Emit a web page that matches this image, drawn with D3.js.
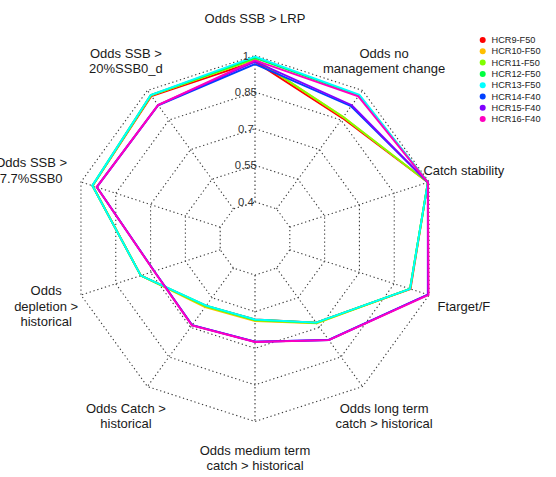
<!DOCTYPE html>
<html>
<head>
<meta charset="utf-8">
<script src="https://cdn.jsdelivr.net/npm/d3@7"></script>
<style>
  html, body { margin: 0; padding: 0; background: #fff; }
  svg { display: block; font-family: "Liberation Sans", Arial, sans-serif; }
</style>
</head>
<body>
<svg id="chart" width="556" height="477"></svg>
<script>
// Axes, clockwise from the top
const axes = [
  "Odds SSB > LRP",
  "Odds no\nmanagement change",
  "Catch stability",
  "Ftarget/F",
  "Odds long term\ncatch > historical",
  "Odds medium term\ncatch > historical",
  "Odds Catch >\nhistorical",
  "Odds\ndepletion >\nhistorical",
  "Odds SSB >\n7.7%SSB0",
  "Odds SSB >\n20%SSB0_d"
];
const seriesNames = ["HCR9-F50","HCR10-F50","HCR11-F50","HCR12-F50","HCR13-F50","HCR14-F40","HCR15-F40","HCR16-F40"];
const seriesColors = ["#FF0000","#FFBF00","#80FF00","#00FF40","#00FFFF","#0040FF","#8000FF","#FF00BF"];
const HCR9  = [0.975, 0.860, 0.995, 0.920, 0.676, 0.582, 0.592, 0.742, 0.950, 0.972];
const HCR10 = [0.985, 0.865, 0.995, 0.918, 0.680, 0.588, 0.598, 0.742, 0.950, 0.975];
const HCR11 = [0.985, 0.866, 0.995, 0.918, 0.678, 0.585, 0.594, 0.742, 0.950, 0.975];
const HCR12 = [0.990, 0.975, 0.995, 0.918, 0.676, 0.583, 0.590, 0.742, 0.951, 0.977];
const HCR13 = [0.995, 0.978, 0.995, 0.918, 0.676, 0.582, 0.590, 0.742, 0.951, 0.977];
const HCR14 = [0.965, 0.920, 0.995, 0.995, 0.764, 0.673, 0.689, 0.684, 0.932, 0.925];
const HCR15 = [0.975, 0.925, 0.995, 0.995, 0.764, 0.673, 0.689, 0.684, 0.932, 0.926];
const HCR16 = [0.980, 0.970, 0.995, 0.998, 0.765, 0.674, 0.690, 0.685, 0.932, 0.926];
const seriesValues = [HCR9, HCR10, HCR11, HCR12, HCR13, HCR14, HCR15, HCR16];
const tickValues = [0.4, 0.55, 0.7, 0.85, 1];
const tickLabels = ["0.4", "0.55", "0.7", "0.85", "1"];

const svg = d3.select("#chart");
const cx = 255, cy = 238.5, R = 183;
const n = axes.length;
const r = d3.scaleLinear().domain([0.4, 1]).range([R / 5, R]);
const ang = d3.scaleLinear().domain([0, n]).range([0, 2 * Math.PI]);
const px = (i, rad) => cx + rad * Math.sin(ang(i));
const py = (i, rad) => cy - rad * Math.cos(ang(i));

const grid = svg.append("g");
// rings
tickValues.forEach(t => {
  const pts = d3.range(n).map(i => [px(i, r(t)), py(i, r(t))]);
  grid.append("path")
    .attr("d", d3.line()(pts) + "Z")
    .attr("fill", "none").attr("stroke", "#3a3a3a")
    .attr("stroke-width", 1.1).attr("stroke-dasharray", "1.3,2.7");
});
// spokes
d3.range(n).forEach(i => {
  grid.append("line")
    .attr("x1", px(i, r(0.4))).attr("y1", py(i, r(0.4)))
    .attr("x2", px(i, r(1))).attr("y2", py(i, r(1)))
    .attr("stroke", "#3a3a3a").attr("stroke-width", 1.1).attr("stroke-dasharray", "1.3,2.7");
});

// series
const lineGen = d3.line();
seriesValues.forEach((vals, s) => {
  const pts = vals.map((v, i) => [px(i, r(v)), py(i, r(v))]);
  svg.append("path")
    .attr("d", lineGen(pts) + "Z")
    .attr("fill", "none").attr("stroke", seriesColors[s])
    .attr("stroke-width", 1.9).attr("stroke-linejoin", "miter");
});

// tick labels
tickValues.forEach((t, k) => {
  svg.append("text")
    .attr("x", cx - 0.05 * R).attr("y", cy - r(t))
    .attr("text-anchor", "middle").attr("dominant-baseline", "central")
    .attr("font-size", 11.3).attr("fill", "#333")
    .text(tickLabels[k]);
});

// axis labels
const labelNudge = [0, 0, 0, 0, 0, 0, 0, 0, -15, 0];
const lh = 15.5;
axes.forEach((lab, i) => {
  const lines = lab.split("\n");
  const x = px(i, 1.2 * R) + labelNudge[i];
  const y = py(i, 1.2 * R);
  const t = svg.append("text")
    .attr("text-anchor", "middle").attr("font-size", 13).attr("fill", "#1a1a1a");
  lines.forEach((ln, j) => {
    t.append("tspan").attr("x", x)
      .attr("y", y + (j - (lines.length - 1) / 2) * lh)
      .attr("dominant-baseline", "central")
      .text(ln);
  });
});

// legend
const leg = svg.append("g");
seriesNames.forEach((nm, s) => {
  const y = 40 + s * 11.3;
  leg.append("circle").attr("cx", 482.7).attr("cy", y).attr("r", 3)
    .attr("fill", seriesColors[s]);
  leg.append("text").attr("x", 491.5).attr("y", y)
    .attr("dominant-baseline", "central").attr("font-size", 9.2).attr("fill", "#222")
    .text(nm);
});
</script>
</body>
</html>
